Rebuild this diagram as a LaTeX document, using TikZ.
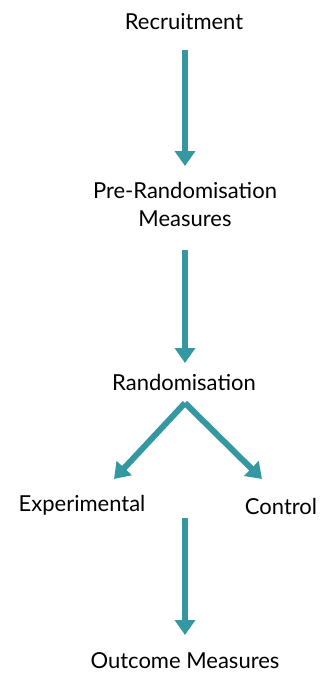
\documentclass[tikz,border=0pt]{standalone}
\usepackage{fontspec}
\setmainfont{Lato}
\usetikzlibrary{arrows.meta}
\definecolor{teal}{RGB}{52,152,162}
\begin{document}
\begin{tikzpicture}[x=1pt,y=-1pt,
    lbl/.style={font=\fontsize{22}{28}\selectfont,align=center,inner sep=0pt},
    flow/.style={line width=6pt,draw=teal,-{Triangle[width=20pt,length=15pt]}}]
      \useasboundingbox (0,0) rectangle (321,674);
      \draw
        (184,22) node[lbl] (rec){Recruitment}
        (185,204) node[lbl] (pre){Pre-Randomisation\\Measures}
        (184,382) node[lbl] (ran){Randomisation}
        (82,505) node[lbl] (exp){Experimental}
        (281,506) node[lbl] (con){Control}
        (185,661) node[lbl] (out){Outcome Measures};
      \coordinate (apex) at (185,403);
      \begin{scope}[flow]
        \draw (185,50) to (185,166);
        \draw (185,250) to (185,363);
        \draw (apex) to (114,479);
        \draw (apex) to (262,479);
        \draw (185,518) to (185,635);
      \end{scope}
    \end{tikzpicture}
\end{document}
